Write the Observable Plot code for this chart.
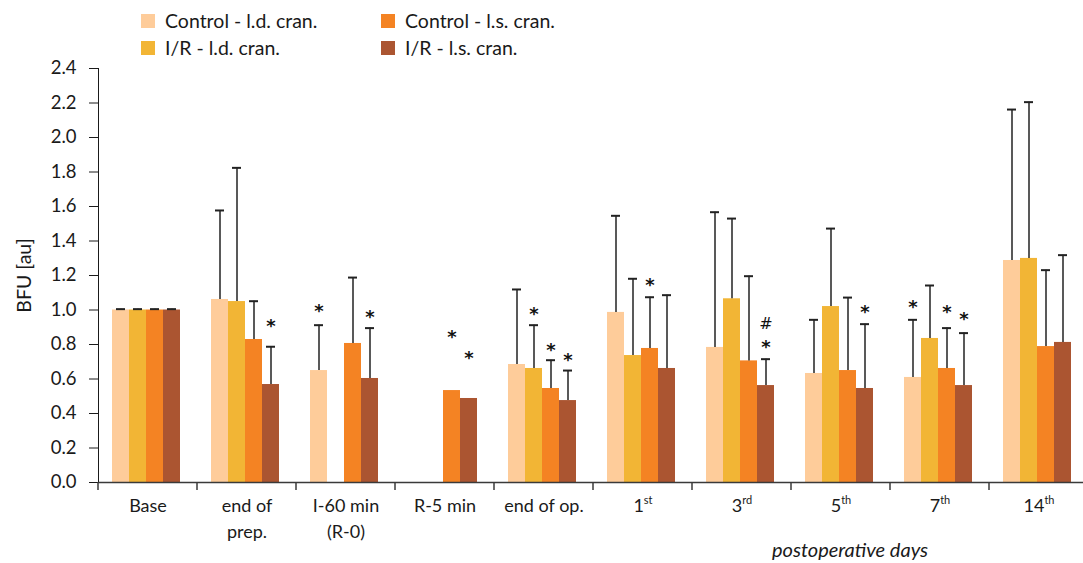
<!DOCTYPE html>
<html><head><meta charset="utf-8">
<script src="https://cdn.jsdelivr.net/npm/d3@7"></script>
<script src="https://cdn.jsdelivr.net/npm/@observablehq/plot@0.6"></script>
<style>
body{margin:0;background:#fff;font-family:Lato,"Open Sans",sans-serif;color:#1a1a1a;}
#wrap{position:relative;width:1083px;height:563px;}
#legend{position:absolute;left:0;top:0;width:1083px;height:60px;}
.li{position:absolute;display:flex;align-items:center;font-size:19.5px;line-height:22px;}
.sw{width:14px;height:14px;margin-right:10px;}
#chart svg{display:block;}
</style></head><body>
<div id="wrap">
<div id="chart"></div>
<div id="legend"></div>
</div>
<script>
const categories = ["Base","end of\nprep.","I-60 min\n(R-0)","R-5 min","end of op.","1st","3rd","5th","7th","14th"];
const series = ["Control - l.d. cran.","I/R - l.d. cran.","Control - l.s. cran.","I/R - l.s. cran."];
const colors = ["#FECC9A","#F2B535","#F48323","#AB5531"];
const controlLd    = [1.0, 1.061, 0.649, null, 0.684, 0.986, 0.783, 0.632, 0.609, 1.287];
const controlLdErr = [1.005, 1.577, 0.912, null, 1.119, 1.546, 1.567, 0.943, 0.943, 2.162];
const irLd         = [1.0, 1.049, null, null, 0.661, 0.736, 1.065, 1.020, 0.835, 1.299];
const irLdErr      = [1.005, 1.824, null, null, 0.912, 1.181, 1.530, 1.472, 1.142, 2.205];
const controlLs    = [1.0, 0.829, 0.806, 0.533, 0.545, 0.777, 0.705, 0.649, 0.661, 0.788];
const controlLsErr = [1.005, 1.051, 1.188, null, 0.709, 1.074, 1.196, 1.072, 0.895, 1.231];
const irLs         = [1.0, 0.568, 0.603, 0.487, 0.475, 0.661, 0.562, 0.545, 0.562, 0.812];
const irLsErr      = [1.005, 0.787, 0.895, null, 0.649, 1.086, 0.715, 0.918, 0.866, 1.318];
// significance marks: [category index, series index, symbol, position in BFU units]
const marks = [
  [1, 3, "*", 0.929],
  [2, 0, "*", 1.016], [2, 3, "*", 0.980],
  [3, 2, "*", 0.868], [3, 3, "*", 0.742],
  [4, 1, "*", 1.001], [4, 2, "*", 0.792], [4, 3, "*", 0.734],
  [5, 2, "*", 1.165],
  [6, 3, "*", 0.808], [6, 3, "#", 0.920],
  [7, 3, "*", 1.013],
  [8, 0, "*", 1.039], [8, 2, "*", 1.013], [8, 3, "*", 0.972]
];
const yTicks = [0,0.2,0.4,0.6,0.8,1.0,1.2,1.4,1.6,1.8,2.0,2.2,2.4];

const values = [controlLd, irLd, controlLs, irLs];
const errs = [controlLdErr, irLdErr, controlLsErr, irLsErr];
const data = [];
categories.forEach((c, i) => series.forEach((s, j) => {
  data.push({cat: c, series: s, value: values[j][i], err: errs[j][i]});
}));
const ann = marks.map(([i, j, t, y]) => ({cat: categories[i], series: series[j], text: t, y}));

// legend
const legend = document.getElementById("legend");
const lpos = [[141, 10], [141, 37], [381, 10], [381, 37]];
[0, 1, 2, 3].forEach(j => {
  const d = document.createElement("div");
  d.className = "li";
  d.style.left = lpos[j][0] + "px";
  d.style.top = lpos[j][1] + "px";
  d.innerHTML = `<span class="sw" style="background:${colors[j]}"></span><span>${series[j]}</span>`;
  legend.appendChild(d);
});

const boundaryTick = (index, scales, vals, dim) => {
  const g = d3.create("svg:g");
  const y0 = scales.y(0);
  g.append("line")
    .attr("x1", dim.marginLeft).attr("x2", dim.marginLeft)
    .attr("y1", y0).attr("y2", y0 + 8)
    .attr("stroke", "#3a3a3a").attr("stroke-width", 1.5);
  return g.node();
};

const chart = Plot.plot({
  width: 1083, height: 563,
  marginLeft: 94, marginRight: -8, marginTop: 68, marginBottom: 81,
  style: {fontFamily: "Lato, 'Open Sans', sans-serif", fontSize: "18.5px", color: "#1a1a1a", background: "#fff"},
  fx: {domain: categories, padding: 0, axis: null, label: null},
  x: {domain: series, paddingInner: 0, paddingOuter: 0.77, align: 0.45, axis: null},
  y: {domain: [0, 2.4], ticks: yTicks, tickFormat: d => d.toFixed(1), tickSize: 9, tickPadding: 13, line: true, label: null},
  color: {domain: series, range: colors},
  marks: [
    Plot.barY(data, {fx: "cat", x: "series", y: "value", fill: "series"}),
    Plot.ruleX(data.filter(d => d.err != null), {fx: "cat", x: "series", y1: "value", y2: "err", stroke: "#222", strokeWidth: 1.5}),
    Plot.tickY(data.filter(d => d.err != null), {fx: "cat", x: "series", y: "err", inset: 4, stroke: "#222", strokeWidth: 2}),
    Plot.text(ann.filter(d => d.text === "*"), {fx: "cat", x: "series", y: "y", text: "text", fontFamily: "DejaVu Sans", fontWeight: "bold", fontSize: 18, dy: 4, fill: "#111"}),
    Plot.text(ann.filter(d => d.text === "#"), {fx: "cat", x: "series", y: "y", text: "text", fontFamily: "DejaVu Sans", fontSize: 16, dy: 0, fill: "#111"}),
    Plot.ruleY([0], {stroke: "#3a3a3a", strokeWidth: 1.5}),
    boundaryTick,
    Plot.text(categories, {fx: d => d, text: d => d, frameAnchor: "bottom", lineAnchor: "top", dy: 12, lineHeight: 1.4, fontSize: 18, fill: "#1a1a1a"}),
    Plot.text([{cat: "5th"}], {fx: "cat", text: () => "postoperative days", frameAnchor: "bottom", lineAnchor: "middle", dy: 68, dx: 9, fontSize: 20, fontStyle: "italic", fill: "#1a1a1a"}),
    Plot.text([{cat: "Base"}], {fx: "cat", text: () => "BFU [au]", frameAnchor: "left", textAnchor: "middle", rotate: -90, dx: -74, fontSize: 19.5, fill: "#1a1a1a"})
  ]
});
document.getElementById("chart").appendChild(chart);

// superscript ordinal suffixes
d3.select(chart).selectAll("text").each(function() {
  const m = /^(\d+)(st|nd|rd|th)$/.exec(this.textContent);
  if (m && this.children.length === 0) {
    const t = d3.select(this);
    t.text(null);
    t.append("tspan").text(m[1]);
    t.append("tspan").attr("font-size", 11).attr("dy", -8).text(m[2]);
  }
});
</script>
</body></html>
